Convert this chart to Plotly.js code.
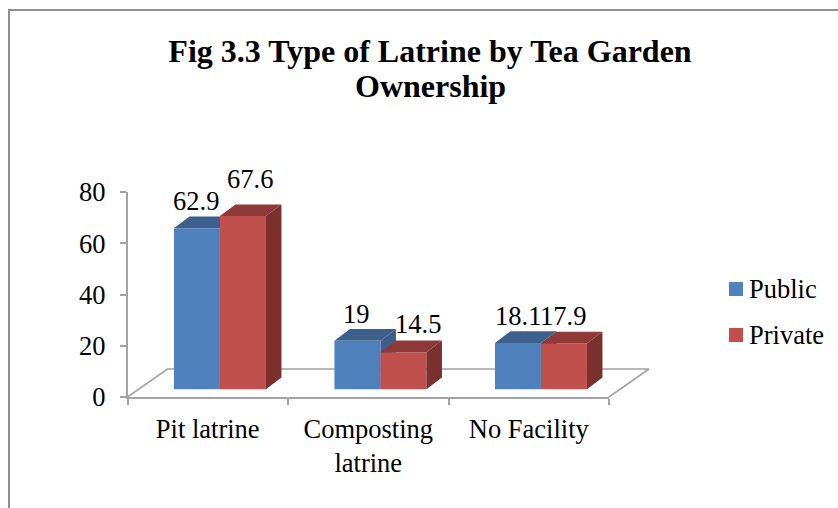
<!DOCTYPE html>
<html>
<head>
<meta charset="utf-8">
<script src="https://cdn.plot.ly/plotly-3.0.1.min.js"></script>
<style>html,body{margin:0;padding:0;background:#fff}#chart{width:838px;height:508px}</style>
</head>
<body>
<div id="chart"></div>
<script>
const categories = ['Pit latrine', 'Composting<br>latrine', 'No Facility'];
const publicValues = [62.9, 19, 18.1];
const privateValues = [67.6, 14.5, 17.9];
const yTicks = [0, 20, 40, 60, 80];
const seriesNames = ['Public', 'Private'];

// Colours of the front, top and side of each series' blocks
const publicColors = {front: '#4f81bd', top: '#3c5f8b', side: '#3b5e8a'};
const privateColors = {front: '#c0504d', top: '#8f3a38', side: '#7b302e'};

// Figure geometry in pixels
const W = 838, H = 508;
const plotLeft = 127.5, plotRight = 609, plotTop = 192, plotBottom = 397;
const extendedRight = 700;
const pxPerCat = (plotRight - plotLeft) / 3;
const pxPerUnit = (plotBottom - plotTop) / 80;

// Block and floor dimensions, in axis units
const floorLift = 3;
const barWidth = 46 / pxPerCat;
const barShift = 12.2 / pxPerCat;
const depthX = 15.5 / pxPerCat, depthY = 11.7 / pxPerUnit;
const floorX = 40 / pxPerCat, floorY = 28 / pxPerUnit;

// Label offsets from the top of each block, in pixels
const publicNudge = {x: [-1, -1, 0], y: [27, 27, 27]};
const privateNudge = {x: [7, 15, -1], y: [37, 28, 27]};

const wideRange = [-0.5, -0.5 + (extendedRight - plotLeft) / pxPerCat];

function face(points, color, xaxis) {
  return {
    type: 'scatter', mode: 'lines', xaxis: xaxis, yaxis: 'y',
    x: points.map(p => p[0]), y: points.map(p => p[1]),
    fill: 'toself', fillcolor: color, line: {width: 0, color: color},
    showlegend: false, hoverinfo: 'skip'
  };
}
function topFace(left, v, color, xaxis) {
  const t = v + floorLift, r = left + barWidth;
  return face([[left, t], [left + depthX, t + depthY], [r + depthX, t + depthY], [r, t], [left, t]], color, xaxis);
}
function sideFace(left, v, color, xaxis) {
  const t = v + floorLift, r = left + barWidth;
  return face([[r, floorLift], [r + depthX, floorLift + depthY], [r + depthX, t + depthY], [r, t], [r, floorLift]], color, xaxis);
}

const publicLeft = publicValues.map((_, i) => i + barShift - barWidth);
const privateLeft = privateValues.map((_, i) => i + barShift);

const floor = {
  type: 'scatter', mode: 'lines', xaxis: 'x', yaxis: 'y',
  x: [-0.5, -0.5 + floorX, 2.5 + floorX, 2.5],
  y: [0, floorY, floorY, 0],
  line: {color: '#a3a3a3', width: 1.6},
  showlegend: false, hoverinfo: 'skip'
};

function bars(name, values, color, offset) {
  return {
    type: 'bar', name: name, xaxis: 'x2', yaxis: 'y',
    x: categories, y: values, base: values.map(() => floorLift),
    width: barWidth, offset: offset,
    marker: {color: color, line: {width: 0}},
    showlegend: false
  };
}

const traces = [floor];
publicValues.forEach((v, i) => {
  traces.push(sideFace(publicLeft[i], v, publicColors.side, 'x'));
  traces.push(topFace(publicLeft[i], v, publicColors.top, 'x'));
});
traces.push(bars(seriesNames[0], publicValues, publicColors.front, barShift - barWidth));
traces.push(bars(seriesNames[1], privateValues, privateColors.front, barShift));
privateValues.forEach((v, i) => {
  traces.push(topFace(privateLeft[i], v, privateColors.top, 'x3'));
  traces.push(sideFace(privateLeft[i], v, privateColors.side, 'x3'));
});

const serif = '"Liberation Serif", serif';
const labelFont = {family: serif, size: 26.5, color: '#000'};
const titleFont = {family: serif, size: 32, color: '#000'};

function valueLabels(values, lefts, nudge) {
  return values.map((v, i) => ({
    xref: 'x', yref: 'y', x: lefts[i] + barWidth / 2, y: v + floorLift,
    text: String(v), showarrow: false, font: labelFont,
    xanchor: 'center', yanchor: 'middle',
    xshift: nudge.x[i], yshift: nudge.y[i]
  }));
}

// Key at the right of the plot: square swatches with the series names
const keyColors = [publicColors.front, privateColors.front];
const keyRows = [289, 335];
const keySwatches = keyRows.map((row, i) => ({
  type: 'rect', xref: 'paper', yref: 'paper', layer: 'above',
  x0: 729 / W, x1: 743 / W, y0: 1 - (row + 7) / H, y1: 1 - (row - 7) / H,
  fillcolor: keyColors[i], line: {width: 0}
}));
const keyLabels = keyRows.map((row, i) => ({
  xref: 'paper', yref: 'paper', x: 749 / W, y: 1 - row / H,
  text: seriesNames[i], showarrow: false, font: labelFont,
  xanchor: 'left', yanchor: 'middle', xshift: -2
}));

const titleSecondLine = {
  xref: 'paper', yref: 'paper', x: 430 / W, y: 1 - 86 / H,
  text: '<b>Ownership</b>', showarrow: false, font: titleFont,
  xanchor: 'center', yanchor: 'middle'
};

const hiddenAxis = {
  domain: [plotLeft / W, extendedRight / W], range: wideRange, anchor: 'y',
  visible: false, fixedrange: true
};

const layout = {
  width: W, height: H,
  margin: {l: 0, r: 0, t: 0, b: 0},
  paper_bgcolor: '#fff', plot_bgcolor: 'rgba(0,0,0,0)',
  barmode: 'overlay',
  showlegend: false,
  font: labelFont,
  title: {
    text: '<b>Fig 3.3 Type of Latrine by Tea Garden</b>',
    font: titleFont,
    x: 430 / W, xanchor: 'center', y: 1 - 51 / H, yanchor: 'middle'
  },
  xaxis: hiddenAxis,
  xaxis3: Object.assign({}, hiddenAxis),
  xaxis2: {
    domain: [plotLeft / W, plotRight / W], range: [-0.5, 2.5], anchor: 'y',
    type: 'category', categoryorder: 'array', categoryarray: categories,
    tickson: 'boundaries', ticks: 'outside', ticklen: 6, tickwidth: 1.6, tickcolor: '#a3a3a3',
    ticklabelstandoff: 7,
    showline: true, linecolor: '#a3a3a3', linewidth: 1.6,
    showgrid: false, zeroline: false, fixedrange: true,
    tickfont: labelFont, automargin: false
  },
  yaxis: {
    domain: [1 - plotBottom / H, 1 - plotTop / H], range: [0, 80], anchor: 'x2',
    tickvals: yTicks, ticks: 'outside', ticklen: 6, tickwidth: 1.6, tickcolor: '#a3a3a3',
    ticklabelstandoff: 9,
    showline: true, linecolor: '#a3a3a3', linewidth: 1.6,
    showgrid: false, zeroline: false, fixedrange: true,
    tickfont: labelFont, automargin: false
  },
  annotations: valueLabels(publicValues, publicLeft, publicNudge)
    .concat(valueLabels(privateValues, privateLeft, privateNudge))
    .concat(keyLabels)
    .concat([titleSecondLine]),
  shapes: [{
    type: 'path', xref: 'paper', yref: 'paper', layer: 'below',
    path: `M ${9 / W} 0 L ${9 / W} ${1 - 10 / H} L 1 ${1 - 10 / H}`,
    line: {color: '#8f8f8f', width: 2}
  }].concat(keySwatches)
};

Plotly.newPlot('chart', traces, layout, {displayModeBar: false, responsive: false});
</script>
</body>
</html>
